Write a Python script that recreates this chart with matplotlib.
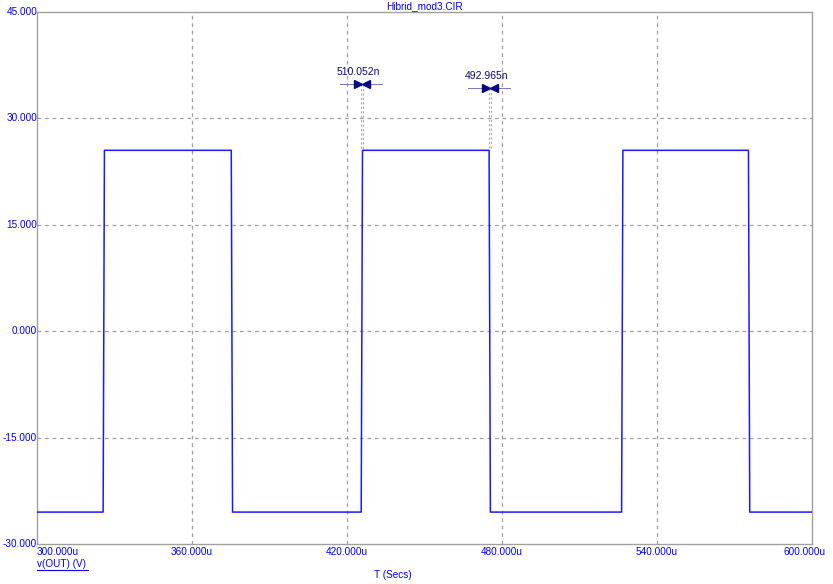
#!/usr/bin/env python3
"""Hibrid_mod3.CIR 瞬态波形 v(OUT) 重绘。"""
import matplotlib

matplotlib.use("Agg")
import matplotlib.pyplot as plt

plt.rcParams["font.family"] = ["Liberation Sans", "DejaVu Sans"]

# 波形拐点，时间单位 us，电压单位 V
T_US = [300.0, 325.6, 326.1, 375.2, 375.7, 425.5, 426.0, 475.0, 475.5, 526.3, 526.8, 575.4, 575.9, 600.0]
V_OUT = [-25.5, -25.5, 25.5, 25.5, -25.5, -25.5, 25.5, 25.5, -25.5, -25.5, 25.5, 25.5, -25.5, -25.5]

X_TICKS = [300, 360, 420, 480, 540, 600]
X_LABELS = ["300.000u", "360.000u", "420.000u", "480.000u", "540.000u", "600.000u"]
Y_TICKS = [-30, -15, 0, 15, 30, 45]
Y_LABELS = ["-30.000", "-15.000", "0.000", "15.000", "30.000", "45.000"]

# 光标测量：(光标1, 光标2, 标注文字, 箭头高度)
CURSORS = [
    (425.4, 426.1, "510.052n", 34.85),
    (475.0, 475.6, "492.965n", 34.3),
]

BLUE = "#1a1aff"
NAVY = "#0a0a80"
GRID = "#a0a0a0"
FS = 7.2

fig = plt.figure(figsize=(8.33, 5.84), dpi=100)
ax = fig.add_axes([37 / 833, 1 - 544 / 584, (812 - 37) / 833, (544 - 12) / 584])
ax.set_xlim(300, 600)
ax.set_ylim(-30, 45)

for x in X_TICKS[1:-1]:
    ax.axvline(x, color=GRID, lw=0.9, ls=(0, (3, 3)), zorder=1)
for y in Y_TICKS[1:-1]:
    ax.axhline(y, color=GRID, lw=0.9, ls=(0, (3, 3)), zorder=1)

ax.plot(T_US, V_OUT, color=BLUE, lw=1.1, zorder=3)

# 光标与上升/下降时间标注
for c1, c2, label, ya in CURSORS:
    for c in (c1, c2):
        ax.plot([c, c], [ya, 25.5], color="#a8a8b8", lw=0.8, ls=(0, (2, 2)), zorder=2)
    ax.plot([c1 - 8.0, c2 + 7.4], [ya, ya], color="#7878c8", lw=0.7, zorder=2)
    ax.plot([c1 - 1.3], [ya], marker=">", ms=5.5, color=NAVY, zorder=4)
    ax.plot([c2 + 1.2], [ya], marker="<", ms=5.5, color=NAVY, zorder=4)
    ax.text((c1 + c2) / 2 - 1.2, ya + 1.0, label, color=NAVY, fontsize=FS + 0.3, ha="center", va="bottom")

for s in ax.spines.values():
    s.set_color(GRID)
    s.set_linewidth(1.0)
ax.set_xticks([])
ax.set_yticks([])

for y, lab in zip(Y_TICKS, Y_LABELS):
    ax.text(300.1, y, lab, color="blue", fontsize=FS, ha="right", va="center", clip_on=False)
for i, (x, lab) in enumerate(zip(X_TICKS, X_LABELS)):
    ha = "left" if i == 0 else "center"
    xx = x - 3 if i == len(X_TICKS) - 1 else x
    ax.text(xx, -30.4, lab, color="blue", fontsize=FS, ha=ha, va="top", clip_on=False)

fig.text(424.5 / 833, 1 - 6 / 584, "Hibrid_mod3.CIR", color="blue", fontsize=FS, ha="center", va="center")
fig.text(37 / 833, 1 - 564 / 584, "v(OUT) (V)", color="blue", fontsize=FS, ha="left", va="center")
fig.add_artist(plt.Line2D([37 / 833, 88 / 833], [1 - 570 / 584] * 2, color="blue", lw=0.8))
fig.text(393 / 833, 1 - 575 / 584, "T (Secs)", color="blue", fontsize=FS, ha="center", va="center")

fig.savefig("out.png", dpi=100)
